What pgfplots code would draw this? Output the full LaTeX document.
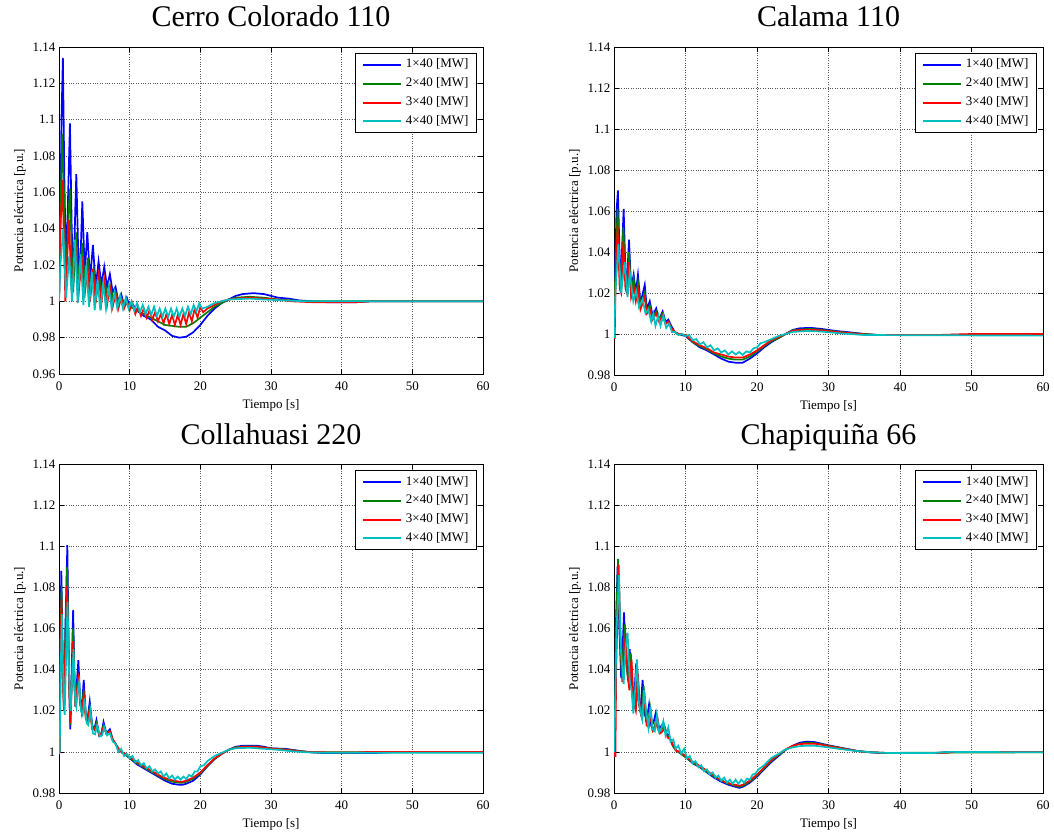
\documentclass[border=0pt]{standalone}
\usepackage{fontspec}
\setmainfont{Liberation Serif}
\usepackage{pgfplots}
\pgfplotsset{compat=1.18}
\definecolor{mblue}{rgb}{0,0,1}
\definecolor{mgreen}{rgb}{0,0.5,0}
\definecolor{mred}{rgb}{1,0,0}
\definecolor{mcyan}{rgb}{0,0.75,0.75}
\pgfplotsset{
 panel/.style={
  scale only axis,
  xmin=0, xmax=60, xtick={0,10,20,30,40,50,60},
  ymax=1.14,
  grid=major,
  major grid style={dotted, black!65, line width=0.6pt},
  axis line style={line width=0.9pt, black},
  tick style={black, line width=0.6pt},
  tick align=inside,
  major tick length=5pt,
  /pgf/number format/assume math mode=true,
  ticklabel style={font=\fontsize{13}{15}\selectfont},
  xticklabel style={yshift=-4pt},
  label style={font=\fontsize{13}{15}\selectfont},
  xlabel={Tiempo [s]},
  xlabel style={yshift=-2pt},
  ylabel={Potencia eléctrica [p.u.]},
  title style={font=\fontsize{30}{34}\selectfont, at={(0.5,1)}, anchor=base, yshift=14pt},
  legend style={at={(1,1)}, anchor=north east, xshift=-6pt, yshift=-6pt,
    draw=black, line width=1pt, fill=white, font=\fontsize{13}{15}\selectfont,
    inner xsep=6.5pt, inner ysep=3.5pt, row sep=3.4pt, column sep=2pt,
    nodes={inner sep=1.5pt, text height=9.5pt, text depth=3pt}},
  legend image code/.code={\draw[#1, line width=2pt] (0pt,0pt) -- (38pt,0pt);},
  legend cell align=left,
  every axis plot/.append style={line width=1.7pt},
 }
}
\begin{document}
\begin{tikzpicture}
\useasboundingbox (0,0) rectangle (1054pt,831pt);
% ---------------- Cerro Colorado 110
\begin{axis}[panel, at={(59pt,457pt)}, anchor=south west, width=424pt, height=327pt,
  ymin=0.96, ytick={0.96,0.98,1,1.02,1.04,1.06,1.08,1.1,1.12,1.14},
  title={Cerro Colorado 110}]
\addplot[mblue] coordinates {(0,1.000) (0.15,1.03) (0.35,1.10) (0.55,1.134) (0.75,1.07) (1.0,1.015) (1.3,1.06) (1.55,1.098) (1.8,1.04) (2.05,1.010) (2.3,1.05) (2.45,1.070) (2.7,1.03) (2.95,1.012) (3.3,1.055) (3.65,1.015) (4.0,1.038) (4.4,1.012) (4.8,1.031) (5.2,1.008) (5.6,1.022) (6.0,1.009) (6.4,1.019) (6.8,1.008) (7.2,1.015) (7.6,1.005) (8.0,1.008) (8.4,1.000) (8.8,1.004) (9.2,0.998) (9.6,1.002) (10.0,0.997) (10.5,0.998) (11,0.995) (12,0.992) (13,0.990) (14,0.986) (15,0.984) (16,0.981) (17,0.980) (18,0.9805) (19,0.983) (20,0.987) (21,0.992) (22,0.996) (23,0.999) (24,1.001) (25,1.003) (26,1.004) (27.5,1.0045) (29,1.004) (30,1.003) (31,1.002) (32.5,1.0015) (34,1.0005) (36,1.0) (38,0.9995) (42,0.9995) (44,1.0) (60,1.0)};
\addplot[mgreen] coordinates {(0,1.0) (0.2,1.05) (0.45,1.092) (0.7,1.06) (0.95,1.010) (1.25,1.04) (1.55,1.062) (1.85,1.02) (2.0,1.005) (2.4,1.038) (2.8,1.008) (3.3,1.032) (3.7,1.006) (4.1,1.024) (4.5,1.006) (4.9,1.018) (5.3,1.004) (5.7,1.014) (6.1,1.004) (6.5,1.010) (6.9,1.003) (7.3,1.008) (7.7,1.000) (8.1,1.004) (8.5,0.999) (8.9,1.001) (9.3,0.998) (9.7,0.999) (10.1,0.997) (11,0.995) (12,0.993) (13,0.991) (14,0.989) (15,0.987) (16,0.9865) (17,0.986) (18,0.986) (19,0.988) (20,0.991) (21,0.994) (22,0.997) (23,0.999) (24,1.001) (25,1.002) (27,1.0025) (29,1.002) (31,1.001) (33,1.0005) (35,1.0) (60,1.0)};
\addplot[mred] coordinates {(0,1.0) (0.2,1.04) (0.5,1.067) (0.9,1.0) (1.4,1.045) (1.8,1.005) (2.3,1.033) (2.7,1.0) (3.2,1.025) (3.6,1.002) (4.0,1.020) (4.4,1.0) (4.8,1.018) (5.2,0.999) (5.6,1.014) (6.0,0.999) (6.4,1.012) (6.8,0.998) (7.2,1.008) (7.6,0.997) (8.0,1.004) (8.4,0.996) (8.8,1.002) (9.2,0.996) (9.6,1.000) (10.0,0.995) (10.4,0.999) (10.8,0.993) (11.2,0.997) (11.6,0.992) (12.0,0.996) (12.4,0.991) (12.8,0.995) (13.2,0.990) (13.6,0.994) (14.0,0.989) (14.4,0.993) (14.8,0.988) (15.2,0.993) (15.6,0.9875) (16.0,0.9925) (16.4,0.987) (16.8,0.9925) (17.2,0.987) (17.6,0.993) (18.0,0.9875) (18.4,0.994) (18.8,0.989) (19.2,0.996) (19.6,0.991) (20.0,0.997) (20.4,0.994) (21,0.996) (22,0.998) (23,1.0) (24,1.001) (25,1.0015) (27,1.002) (29,1.0015) (31,1.001) (33,1.0) (36,0.9995) (42,0.9995) (44,1.0) (60,1.0)};
\addplot[mcyan] coordinates {(0,1.0) (0.2,1.02) (0.6,1.04) (1.0,1.002) (1.45,1.025) (1.85,1.0) (2.25,1.034) (2.65,0.999) (3.05,1.026) (3.45,0.998) (3.85,1.02) (4.25,0.997) (4.65,1.016) (5.05,0.995) (5.45,1.012) (5.85,0.995) (6.25,1.010) (6.65,0.996) (7.05,1.008) (7.45,0.996) (7.85,1.005) (8.25,0.996) (8.65,1.003) (9.05,0.996) (9.45,1.002) (9.85,0.996) (10.25,1.0) (10.65,0.995) (11.05,0.999) (11.45,0.994) (11.85,0.998) (12.25,0.993) (12.65,0.997) (13.05,0.9925) (13.45,0.997) (13.85,0.992) (14.25,0.996) (14.65,0.9915) (15.05,0.996) (15.45,0.9915) (15.85,0.996) (16.25,0.9915) (16.65,0.996) (17.05,0.9915) (17.45,0.996) (17.85,0.992) (18.25,0.997) (18.65,0.993) (19.05,0.998) (19.45,0.9945) (19.85,0.999) (20.25,0.996) (21,0.997) (22,0.999) (23,1.0) (24,1.001) (25,1.0012) (27,1.0015) (29,1.001) (32,1.0005) (35,1.0) (60,1.0)};
\legend{1×40 [MW],2×40 [MW],3×40 [MW],4×40 [MW]}
\end{axis}
% ---------------- Calama 110
\begin{axis}[panel, at={(614pt,456pt)}, anchor=south west, width=429pt, height=328pt,
  ymin=0.98, ytick={0.98,1,1.02,1.04,1.06,1.08,1.1,1.12,1.14},
  title={Calama 110}]
\addplot[mblue] coordinates {(0,0.998) (0.15,1.03) (0.35,1.06) (0.55,1.070) (0.8,1.035) (1.0,1.03) (1.35,1.061) (1.6,1.03) (1.8,1.025) (2.1,1.046) (2.4,1.022) (2.75,1.029) (3.05,1.02) (3.35,1.029) (3.7,1.015) (4.3,1.024) (4.6,1.012) (5.0,1.016) (5.4,1.009) (5.9,1.0125) (6.3,1.007) (6.8,1.011) (7.2,1.006) (7.6,1.007) (8.0,1.004) (8.5,1.001) (9.0,1.0) (10,0.999) (11,0.996) (12,0.9935) (13,0.992) (14,0.990) (15,0.988) (16,0.9865) (17,0.986) (18,0.986) (19,0.988) (20,0.9905) (21,0.9935) (22,0.996) (23,0.998) (24,1.000) (25,1.002) (26,1.0028) (27.5,1.003) (29,1.0025) (30,1.002) (31,1.0015) (33,1.0008) (35,1.0) (37,0.9995) (45,0.9995) (50,0.9997) (60,0.9997)};
\addplot[mgreen] coordinates {(0,0.998) (0.15,1.025) (0.5,1.061) (0.8,1.03) (1.0,1.025) (1.3,1.052) (1.6,1.027) (1.8,1.022) (2.1,1.040) (2.4,1.02) (2.75,1.027) (3.05,1.018) (3.35,1.025) (3.7,1.014) (4.3,1.02) (4.6,1.011) (5.0,1.014) (5.4,1.008) (5.9,1.011) (6.3,1.007) (6.8,1.010) (7.2,1.005) (7.6,1.006) (8.0,1.003) (8.5,1.001) (9.0,1.0) (10,0.9995) (11,0.996) (12,0.994) (13,0.9925) (14,0.9905) (15,0.989) (16,0.988) (17,0.9875) (18,0.9875) (19,0.989) (20,0.9915) (21,0.994) (22,0.9965) (23,0.998) (24,1.0) (25,1.0018) (26,1.0022) (27.5,1.0025) (29,1.002) (31,1.0012) (33,1.0005) (35,1.0) (37,0.9995) (60,0.9995)};
\addplot[mred] coordinates {(0,0.998) (0.1,0.998) (0.2,1.02) (0.5,1.053) (0.8,1.022) (1.0,1.02) (1.3,1.045) (1.6,1.022) (1.8,1.02) (2.1,1.035) (2.4,1.018) (2.75,1.023) (3.05,1.016) (3.35,1.022) (3.7,1.012) (4.3,1.018) (4.6,1.01) (5.0,1.012) (5.4,1.007) (5.9,1.01) (6.3,1.006) (6.8,1.009) (7.2,1.005) (7.6,1.006) (8.0,1.003) (8.5,1.001) (9.0,1.0) (10,0.9995) (11,0.9965) (12,0.9945) (13,0.993) (14,0.991) (15,0.99) (16,0.989) (17,0.9885) (18,0.9885) (19,0.99) (20,0.992) (21,0.9945) (22,0.997) (23,0.9985) (24,1.0) (25,1.0015) (26,1.002) (27.5,1.002) (29,1.0018) (31,1.001) (33,1.0004) (35,0.9998) (37,0.9995) (45,0.9995) (50,1.0) (60,1.0)};
\addplot[mcyan] coordinates {(0,0.998) (0.2,1.02) (0.6,1.044) (1.0,1.02) (1.5,1.035) (1.9,1.018) (2.2,1.030) (2.7,1.016) (3.1,1.021) (3.5,1.013) (4.0,1.017) (4.4,1.01) (4.8,1.012) (5.2,1.006) (5.5,1.01) (5.8,1.004) (6.2,1.009) (6.5,1.004) (6.9,1.009) (7.3,1.003) (7.7,1.005) (8.1,1.001) (8.5,1.001) (9.0,0.9995) (9.5,1.0) (10,0.999) (10.5,0.9995) (11,0.997) (11.5,0.9975) (12,0.995) (12.5,0.996) (13,0.9935) (13.5,0.9945) (14,0.992) (14.5,0.993) (15,0.991) (15.5,0.992) (16,0.990) (16.5,0.9915) (17,0.990) (17.5,0.9912) (18,0.9898) (18.5,0.9915) (19,0.991) (19.5,0.993) (20,0.9935) (20.5,0.9955) (21,0.996) (22,0.9975) (23,0.999) (24,1.0) (25,1.001) (27,1.0015) (29,1.0012) (31,1.0005) (33,1.0) (35,0.9995) (60,0.9992)};
\legend{1×40 [MW],2×40 [MW],3×40 [MW],4×40 [MW]}
\end{axis}
% ---------------- Collahuasi 220
\begin{axis}[panel, at={(59pt,38pt)}, anchor=south west, width=424pt, height=329pt,
  ymin=0.98, ytick={0.98,1,1.02,1.04,1.06,1.08,1.1,1.12,1.14},
  title={Collahuasi 220}]
\addplot[mblue] coordinates {(0,0.999) (0.1,1.0) (0.2,1.06) (0.33,1.088) (0.5,1.05) (0.7,1.022) (0.9,1.06) (1.18,1.1005) (1.4,1.04) (1.6,1.011) (1.8,1.04) (2.0,1.069) (2.2,1.035) (2.35,1.022) (2.55,1.035) (2.74,1.0446) (3.0,1.025) (3.2,1.02) (3.5,1.035) (3.8,1.018) (4.05,1.016) (4.35,1.0245) (4.7,1.013) (5.0,1.011) (5.3,1.0155) (5.7,1.008) (6.0,1.009) (6.3,1.0145) (6.7,1.009) (7.2,1.011) (7.6,1.006) (8.0,1.004) (8.5,1.001) (9.0,0.9995) (10,0.997) (11,0.994) (12,0.992) (13,0.990) (14,0.988) (15,0.986) (16,0.9845) (17,0.984) (17.5,0.984) (18,0.9845) (19,0.986) (20,0.989) (21,0.993) (22,0.9965) (23,0.999) (24,1.001) (25,1.0025) (26,1.003) (28,1.003) (29,1.0025) (30,1.0017) (32,1.0015) (33,1.001) (35,1.0) (37,0.9995) (45,0.9995) (48,1.0) (60,1.0)};
\addplot[mgreen] coordinates {(0,0.999) (0.1,1.0) (0.2,1.05) (0.35,1.081) (0.5,1.045) (0.7,1.02) (0.9,1.055) (1.15,1.090) (1.4,1.04) (1.6,1.013) (1.8,1.035) (2.0,1.060) (2.2,1.032) (2.35,1.022) (2.55,1.032) (2.74,1.037) (3.0,1.024) (3.2,1.02) (3.5,1.030) (3.8,1.017) (4.05,1.016) (4.35,1.022) (4.7,1.012) (5.0,1.011) (5.3,1.014) (5.7,1.008) (6.0,1.009) (6.3,1.013) (6.7,1.009) (7.2,1.010) (7.6,1.006) (8.0,1.004) (8.5,1.001) (9.0,0.9995) (10,0.9972) (11,0.9945) (12,0.9925) (13,0.9905) (14,0.9885) (15,0.9868) (16,0.9855) (17,0.985) (17.5,0.985) (18,0.9855) (19,0.987) (20,0.9895) (21,0.9932) (22,0.9965) (23,0.999) (24,1.001) (25,1.0022) (26,1.0026) (28,1.0026) (30,1.0017) (32,1.0012) (34,1.0004) (36,0.9998) (60,0.9998)};
\addplot[mred] coordinates {(0,0.999) (0.1,1.0) (0.2,1.045) (0.35,1.074) (0.5,1.04) (0.7,1.02) (0.9,1.05) (1.15,1.081) (1.4,1.038) (1.6,1.014) (1.8,1.032) (2.0,1.054) (2.2,1.03) (2.35,1.022) (2.55,1.03) (2.74,1.035) (3.0,1.023) (3.2,1.02) (3.5,1.028) (3.8,1.016) (4.05,1.015) (4.35,1.021) (4.7,1.011) (5.0,1.011) (5.3,1.013) (5.7,1.008) (6.0,1.009) (6.3,1.012) (6.7,1.009) (7.2,1.010) (7.6,1.006) (8.0,1.004) (8.5,1.001) (9.0,0.9995) (9.5,0.999) (10,0.9975) (10.5,0.9965) (11,0.995) (11.5,0.994) (12,0.993) (12.5,0.992) (13,0.991) (13.5,0.990) (14,0.989) (14.5,0.988) (15,0.9873) (16,0.9862) (17,0.9855) (17.5,0.9855) (18,0.986) (19,0.9875) (20,0.99) (21,0.9935) (22,0.9968) (23,0.999) (24,1.001) (25,1.002) (26,1.0025) (28,1.0025) (30,1.0016) (32,1.001) (34,1.0003) (36,0.9998) (42,0.9997) (44,1.0) (60,1.0)};
\addplot[mcyan] coordinates {(0,0.999) (0.1,1.0) (0.25,1.04) (0.4,1.067) (0.6,1.035) (0.8,1.018) (1.0,1.045) (1.2,1.073) (1.45,1.035) (1.65,1.02) (1.85,1.035) (2.05,1.05) (2.3,1.025) (2.45,1.022) (2.65,1.03) (2.85,1.034) (3.1,1.02) (3.35,1.018) (3.6,1.026) (3.9,1.014) (4.15,1.013) (4.45,1.02) (4.8,1.009) (5.1,1.0085) (5.4,1.013) (5.8,1.0075) (6.1,1.008) (6.4,1.012) (6.8,1.008) (7.2,1.009) (7.6,1.005) (8.0,1.004) (8.4,1.0) (8.8,1.0015) (9.2,0.998) (9.6,0.999) (10,0.997) (10.4,0.998) (10.8,0.995) (11.2,0.996) (11.6,0.9935) (12.0,0.9945) (12.4,0.992) (12.8,0.993) (13.2,0.9905) (13.6,0.9915) (14.0,0.9895) (14.4,0.9905) (14.8,0.988) (15.2,0.9895) (15.6,0.987) (16.0,0.9885) (16.4,0.9865) (16.8,0.988) (17.2,0.9865) (17.6,0.988) (18.0,0.9868) (18.4,0.9888) (18.8,0.988) (19.2,0.9905) (19.6,0.9905) (20.0,0.993) (20.5,0.9935) (21,0.9955) (22,0.998) (23,0.9995) (24,1.001) (25,1.0018) (27,1.002) (29,1.0015) (31,1.001) (33,1.0003) (35,0.9998) (37,0.9996) (60,0.9996)};
\legend{1×40 [MW],2×40 [MW],3×40 [MW],4×40 [MW]}
\end{axis}
% ---------------- Chapiquiña 66
\begin{axis}[panel, at={(614pt,38pt)}, anchor=south west, width=429pt, height=329pt,
  ymin=0.98, ytick={0.98,1,1.02,1.04,1.06,1.08,1.1,1.12,1.14},
  title={Chapiquiña 66}]
\addplot[mblue] coordinates {(0,1.0) (0.1,1.0) (0.25,1.06) (0.5,1.09) (0.75,1.06) (1.0,1.036) (1.2,1.05) (1.4,1.0678) (1.65,1.045) (1.9,1.038) (2.2,1.05) (2.5,1.03) (2.8,1.025) (3.1,1.043) (3.4,1.025) (3.7,1.02) (4.0,1.035) (4.3,1.018) (4.6,1.016) (4.9,1.023) (5.2,1.013) (5.5,1.014) (5.85,1.019) (6.2,1.011) (6.5,1.012) (6.9,1.014) (7.3,1.009) (7.7,1.008) (8.1,1.004) (8.6,1.001) (9.0,1.0) (10,0.9975) (11,0.9945) (12,0.9925) (13,0.990) (14,0.9875) (15,0.9855) (16,0.984) (17,0.983) (17.5,0.9825) (18,0.983) (19,0.985) (20,0.988) (21,0.9915) (22,0.995) (23,0.998) (24,1.001) (25,1.003) (26,1.0045) (27,1.005) (28,1.0048) (29,1.004) (30,1.0032) (31,1.0025) (32,1.0018) (33,1.0012) (34,1.0005) (35,1.0) (37,0.9995) (45,0.9995) (47,1.0) (60,1.0)};
\addplot[mgreen] coordinates {(0,1.0) (0.1,1.0) (0.25,1.055) (0.56,1.0938) (0.8,1.06) (1.1,1.036) (1.3,1.05) (1.54,1.062) (1.8,1.04) (2.05,1.035) (2.35,1.048) (2.65,1.027) (2.95,1.023) (3.25,1.041) (3.55,1.022) (3.85,1.018) (4.15,1.032) (4.45,1.015) (4.75,1.013) (5.05,1.021) (5.35,1.011) (5.65,1.012) (6.0,1.017) (6.35,1.01) (6.7,1.011) (7.0,1.013) (7.4,1.008) (7.8,1.007) (8.2,1.003) (8.6,1.001) (9.0,1.0) (10,0.9975) (11,0.9947) (12,0.9927) (13,0.9903) (14,0.988) (15,0.986) (16,0.9845) (17,0.9835) (17.5,0.983) (18,0.9835) (19,0.9855) (20,0.9885) (21,0.992) (22,0.9955) (23,0.9985) (24,1.001) (25,1.0028) (26,1.004) (27,1.0045) (28,1.0043) (29,1.0037) (30,1.003) (31,1.0024) (32,1.0017) (33,1.001) (34,1.0004) (36,0.9998) (38,0.9995) (45,0.9996) (60,0.9998)};
\addplot[mred] coordinates {(0,1.0) (0.05,0.998) (0.2,0.998) (0.3,1.04) (0.65,1.091) (0.9,1.058) (1.15,1.034) (1.4,1.045) (1.63,1.0576) (1.9,1.037) (2.15,1.03) (2.45,1.045) (2.75,1.024) (3.05,1.02) (3.35,1.038) (3.65,1.02) (3.95,1.016) (4.25,1.029) (4.55,1.013) (4.85,1.012) (5.15,1.019) (5.45,1.010) (5.75,1.011) (6.1,1.016) (6.45,1.009) (6.8,1.010) (7.1,1.012) (7.5,1.007) (7.9,1.006) (8.3,1.003) (8.7,1.0005) (9.2,1.0) (9.6,0.999) (10,0.998) (10.5,0.9965) (11,0.9952) (11.5,0.9945) (12,0.993) (12.5,0.992) (13,0.9908) (13.5,0.9895) (14,0.9885) (14.5,0.9872) (15,0.9865) (15.5,0.9853) (16,0.985) (16.5,0.984) (17,0.984) (17.5,0.9835) (18,0.984) (18.5,0.985) (19,0.986) (20,0.989) (21,0.9925) (22,0.996) (23,0.9988) (24,1.0012) (25,1.003) (26,1.0038) (27,1.004) (28,1.004) (29,1.0035) (30,1.0028) (31,1.0022) (32,1.0015) (33,1.001) (34,1.0004) (36,0.9998) (38,0.9995) (46,0.9995) (48,1.0) (60,1.0)};
\addplot[mcyan] coordinates {(0,1.0) (0.15,1.02) (0.35,1.06) (0.7,1.086) (0.95,1.05) (1.35,1.033) (1.6,1.05) (1.9,1.058) (2.2,1.035) (2.45,1.03) (2.7,1.0186) (2.95,1.03) (3.2,1.045) (3.45,1.025) (3.7,1.02) (3.95,1.016) (4.2,1.03) (4.5,1.02) (4.8,1.012) (5.1,1.022) (5.4,1.011) (5.7,1.01) (6.0,1.018) (6.3,1.0097) (6.6,1.011) (6.9,1.015) (7.2,1.008) (7.6,1.012) (7.9,1.005) (8.3,1.006) (8.6,1.0015) (9.0,1.003) (9.4,0.999) (9.8,1.0015) (10.2,0.997) (10.6,0.998) (11.0,0.9945) (11.4,0.9955) (11.8,0.9925) (12.2,0.9935) (12.6,0.9905) (13.0,0.9915) (13.4,0.989) (13.8,0.99) (14.2,0.9875) (14.6,0.9885) (15.0,0.986) (15.4,0.9875) (15.8,0.985) (16.2,0.9865) (16.6,0.9845) (17.0,0.9865) (17.4,0.9845) (17.8,0.9865) (18.2,0.985) (18.6,0.987) (19.0,0.9865) (19.4,0.989) (19.8,0.9895) (20.2,0.9915) (20.6,0.9925) (21,0.9935) (22,0.997) (23,0.999) (24,1.0012) (25,1.0022) (26,1.0028) (27,1.003) (28,1.003) (30,1.0022) (32,1.0012) (34,1.0004) (36,0.9998) (38,0.9995) (45,0.9995) (47,1.0) (60,0.9998)};
\legend{1×40 [MW],2×40 [MW],3×40 [MW],4×40 [MW]}
\end{axis}
\end{tikzpicture}
\end{document}
